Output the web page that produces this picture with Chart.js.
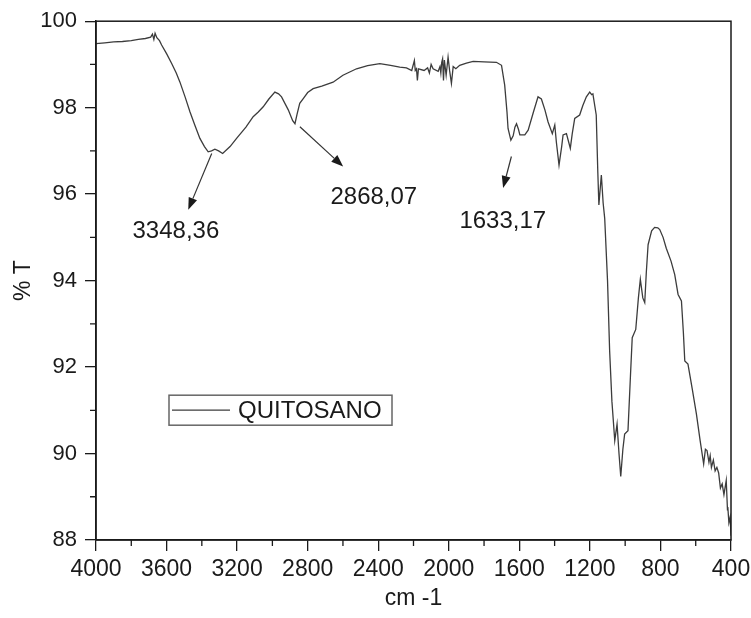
<!DOCTYPE html>
<html>
<head>
<meta charset="utf-8">
<script src="https://cdn.jsdelivr.net/npm/chart.js@4/dist/chart.umd.min.js"></script>
<style>
	html, body { margin: 0; padding: 0; background: #fff; }
	#wrap { width: 751px; height: 618px; }
</style>
</head>
<body>
<div id="wrap"><canvas id="myChart"></canvas></div>
<script>
const wavenumbers = [
	4000, 3950, 3900, 3850, 3800, 3760, 3720, 3690, 3680, 3672, 3665, 3655, 3640, 3628,
	3600, 3571, 3545, 3524, 3495, 3467, 3440, 3411, 3385, 3364, 3345, 3326, 3305, 3282,
	3240, 3203, 3150, 3109, 3080, 3052, 3020, 2986, 2965, 2948, 2910, 2885, 2872, 2860,
	2845, 2825, 2800, 2769, 2720, 2656, 2600, 2523, 2460, 2391, 2330, 2278, 2240, 2210,
	2195, 2190, 2183, 2178, 2172, 2140, 2120, 2110, 2100, 2089, 2060, 2050, 2045, 2040,
	2035, 2030, 2025, 2015, 2004, 1995, 1985, 1975, 1960, 1938, 1900, 1862, 1800, 1730,
	1701, 1683, 1670, 1664, 1648, 1635, 1625, 1616, 1605, 1597, 1569, 1550, 1520, 1494,
	1475, 1455, 1437, 1413, 1399, 1390, 1375, 1360, 1352, 1333, 1320, 1311, 1300, 1286,
	1258, 1240, 1220, 1201, 1190, 1183, 1164, 1155, 1149, 1140, 1135, 1125, 1116, 1100,
	1088, 1075, 1059, 1046, 1035, 1025, 1013, 1003, 984, 970, 960, 940, 925, 914,
	900, 889, 880, 870, 850, 833, 815, 804, 785, 767, 740, 719, 700, 681,
	670, 662, 644, 620, 596, 575, 555, 545, 536, 525, 518, 511, 500, 490,
	480, 470, 460, 450, 440, 427, 420, 418, 412, 405, 400
];

const transmittance = [
	99.48, 99.50, 99.52, 99.53, 99.55, 99.58, 99.60, 99.63, 99.70, 99.58, 99.72, 99.62, 99.55, 99.45,
	99.25, 99.02, 98.80, 98.59, 98.25, 97.90, 97.60, 97.29, 97.10, 96.98, 97.00, 97.04, 97.00, 96.94,
	97.10, 97.29, 97.55, 97.79, 97.90, 98.02, 98.20, 98.36, 98.32, 98.25, 97.95, 97.70, 97.63, 97.85,
	98.10, 98.21, 98.35, 98.44, 98.50, 98.59, 98.75, 98.90, 98.97, 99.02, 98.98, 98.94, 98.92, 98.86,
	99.09, 98.86, 98.90, 98.63, 98.90, 98.86, 98.92, 98.80, 99.00, 98.90, 98.84, 98.95, 98.80, 99.05,
	99.13, 98.63, 99.10, 98.75, 99.17, 98.85, 98.56, 98.95, 98.90, 98.98, 99.03, 99.07, 99.06, 99.05,
	98.98, 98.52, 97.90, 97.52, 97.25, 97.35, 97.55, 97.63, 97.50, 97.37, 97.37, 97.48, 97.90, 98.25,
	98.20, 97.95, 97.67, 97.40, 97.60, 97.20, 96.67, 97.10, 97.37, 97.40, 97.20, 97.06, 97.40, 97.75,
	97.83, 98.05, 98.25, 98.36, 98.30, 98.32, 97.83, 96.50, 95.75, 96.20, 96.44, 95.80, 95.44, 94.00,
	92.37, 91.20, 90.30, 90.68, 90.00, 89.47, 90.10, 90.45, 90.53, 91.80, 92.68, 92.87, 93.60, 94.03,
	93.60, 93.49, 94.20, 94.83, 95.15, 95.23, 95.22, 95.18, 95.00, 94.75, 94.45, 94.14, 93.68, 93.53,
	92.80, 92.14, 92.07, 91.50, 90.91, 90.30, 89.76, 90.10, 90.07, 89.80, 89.95, 89.68, 89.85, 89.60,
	89.68, 89.55, 89.20, 89.30, 89.05, 89.38, 88.70, 88.76, 88.40, 88.53, 88.10
];

const xTicks = [400, 800, 1200, 1600, 2000, 2400, 2800, 3200, 3600, 4000];
const yTicks = [88, 90, 92, 94, 96, 98, 100];

// peak labels: text position, arrow start, arrow end (data units)
const peakLabels = ["3348,36", "2868,07", "1633,17"];
const peakTextX = [3547, 2425, 1694];
const peakTextY = [95.14, 95.92, 95.37];
const arrowFromX = [3344, 2844, 1645];
const arrowFromY = [96.94, 97.56, 96.87];
const arrowToX = [3477, 2599, 1692];
const arrowToY = [95.64, 96.64, 96.14];

const FONT = "'Liberation Sans', Arial, sans-serif";
const INK = "#1a1a1a";

const points = wavenumbers.map((w, i) => ({ x: w, y: transmittance[i] }));

const extras = {
	id: "extras",
	afterDraw(chart) {
		const { ctx, chartArea: a, scales } = chart;
		const sx = scales.x, sy = scales.y;
		ctx.save();

		// frame
		ctx.strokeStyle = INK;
		ctx.lineWidth = 1.5;
		ctx.strokeRect(a.left, a.top, a.right - a.left, a.bottom - a.top);

		// minor ticks
		ctx.lineWidth = 1.3;
		ctx.beginPath();
		for (let v = 600; v < 4000; v += 400) {
			const px = sx.getPixelForValue(v);
			ctx.moveTo(px, a.bottom);
			ctx.lineTo(px, a.bottom + 6);
		}
		for (let v = 89; v < 100; v += 2) {
			const py = sy.getPixelForValue(v);
			ctx.moveTo(a.left, py);
			ctx.lineTo(a.left - 6, py);
		}
		ctx.stroke();

		// peak annotations
		ctx.fillStyle = INK;
		ctx.strokeStyle = "#333";
		ctx.lineWidth = 1.2;
		ctx.font = "24px " + FONT;
		ctx.textAlign = "center";
		ctx.textBaseline = "middle";
		peakLabels.forEach((lab, i) => {
			const x0 = sx.getPixelForValue(arrowFromX[i]);
			const y0 = sy.getPixelForValue(arrowFromY[i]);
			const x1 = sx.getPixelForValue(arrowToX[i]);
			const y1 = sy.getPixelForValue(arrowToY[i]);
			const ang = Math.atan2(y1 - y0, x1 - x0);
			const hl = 12, hw = 4.5;
			const bx = x1 - hl * Math.cos(ang), by = y1 - hl * Math.sin(ang);
			ctx.beginPath();
			ctx.moveTo(x0, y0);
			ctx.lineTo(bx, by);
			ctx.stroke();
			ctx.beginPath();
			ctx.moveTo(x1, y1);
			ctx.lineTo(bx + hw * Math.sin(ang), by - hw * Math.cos(ang));
			ctx.lineTo(bx - hw * Math.sin(ang), by + hw * Math.cos(ang));
			ctx.closePath();
			ctx.fill();
			ctx.fillText(lab, sx.getPixelForValue(peakTextX[i]), sy.getPixelForValue(peakTextY[i]));
		});

		// legend box
		const ds = chart.data.datasets[0];
		const lx = a.left + 73, ly = a.top + 374, lw = 223, lh = 30;
		ctx.strokeStyle = "#666";
		ctx.lineWidth = 1.5;
		ctx.strokeRect(lx, ly, lw, lh);
		ctx.strokeStyle = ds.borderColor;
		ctx.lineWidth = 1.3;
		ctx.beginPath();
		ctx.moveTo(lx + 3, ly + lh / 2);
		ctx.lineTo(lx + 61, ly + lh / 2);
		ctx.stroke();
		ctx.fillStyle = INK;
		ctx.textAlign = "left";
		ctx.fillText(ds.label, lx + 69, ly + lh / 2 + 1);

		ctx.restore();
	},
};

function drawChart() {
	const ctx = document.getElementById("myChart");
	new Chart(ctx, {
		type: "line",
		data: {
			datasets: [
				{
					label: "QUITOSANO",
					data: points,
					borderColor: "#3c3c3c",
					borderWidth: 1.3,
					pointRadius: 0,
					tension: 0,
					fill: false,
				},
			],
		},
		options: {
			responsive: true,
			maintainAspectRatio: false,
			animation: false,
			layout: { padding: { top: 19, right: 20, left: 0, bottom: 0 } },
			plugins: {
				legend: { display: false },
				tooltip: { enabled: false },
			},
			scales: {
				x: {
					type: "linear",
					reverse: true,
					min: 400,
					max: 4000,
					afterBuildTicks: (s) => { s.ticks = xTicks.map((v) => ({ value: v })); },
					afterFit: (s) => { s.height = 78; },
					grid: { drawOnChartArea: false, drawTicks: true, tickLength: 11, color: INK, lineWidth: 1.3 },
					border: { display: true, color: INK, width: 1.5 },
					ticks: { color: INK, font: { family: FONT, size: 23 }, padding: 5, maxRotation: 0, autoSkip: false, callback: (v) => String(v) },
					title: { display: true, text: "cm -1", color: INK, font: { family: FONT, size: 23 }, padding: { top: 0, bottom: 6 } },
				},
				y: {
					min: 88,
					max: 100,
					afterBuildTicks: (s) => { s.ticks = yTicks.map((v) => ({ value: v })); },
					afterFit: (s) => { s.width = 96; },
					grid: { drawOnChartArea: false, drawTicks: true, tickLength: 11, color: INK, lineWidth: 1.3 },
					border: { display: true, color: INK, width: 1.5 },
					ticks: { color: INK, font: { family: FONT, size: 22 }, padding: 8, callback: (v) => String(v) },
					title: { display: true, text: "% T", color: INK, font: { family: FONT, size: 23 }, padding: { top: 10, bottom: 0 } },
				},
			},
		},
		plugins: [extras],
	});
}

drawChart();
</script>
</body>
</html>
